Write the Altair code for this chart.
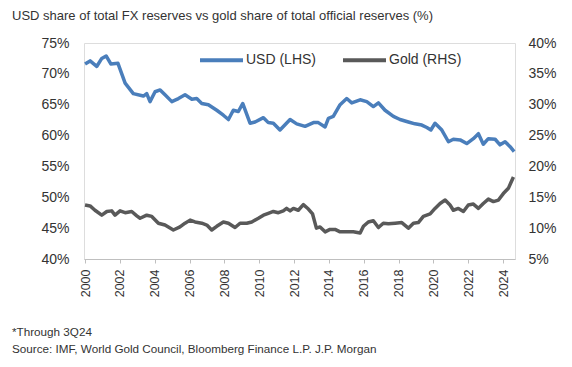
import altair as alt
import pandas as pd

usd_year = [2000.00, 2000.29, 2000.67, 2000.96, 2001.21, 2001.48, 2001.89, 2002.30, 2002.77, 2003.35,
            2003.54, 2003.73, 2004.02, 2004.31, 2004.59, 2004.98, 2005.36, 2005.74, 2006.13, 2006.41,
            2006.70, 2007.08, 2007.56, 2007.94, 2008.23, 2008.51, 2008.80, 2009.05, 2009.47, 2009.76,
            2010.24, 2010.52, 2010.81, 2011.19, 2011.77, 2012.15, 2012.63, 2013.11, 2013.39, 2013.78,
            2013.97, 2014.25, 2014.64, 2015.02, 2015.31, 2015.79, 2016.17, 2016.55, 2016.84, 2017.22,
            2017.70, 2018.08, 2018.56, 2018.94, 2019.33, 2019.62, 2019.85, 2020.09, 2020.48, 2020.86,
            2021.14, 2021.53, 2021.91, 2022.29, 2022.58, 2022.86, 2023.15, 2023.54, 2023.82, 2024.11,
            2024.40, 2024.63]
usd_share = [71.6, 72.1, 71.2, 72.5, 72.9, 71.6, 71.7, 68.5, 66.8, 66.4,
             66.8, 65.5, 67.1, 67.4, 66.6, 65.5, 66.0, 66.6, 65.9, 66.0,
             65.2, 65.0, 64.1, 63.3, 62.6, 64.1, 63.9, 65.2, 62.0, 62.2,
             62.9, 62.1, 62.0, 60.9, 62.6, 61.9, 61.5, 62.1, 62.1, 61.4,
             62.8, 63.1, 65.0, 66.0, 65.3, 65.8, 65.5, 64.7, 65.3, 64.1,
             63.1, 62.6, 62.2, 61.9, 61.7, 61.3, 60.9, 62.0, 60.9, 59.0,
             59.4, 59.3, 58.7, 59.5, 60.3, 58.6, 59.5, 59.4, 58.5, 59.0,
             58.2, 57.4]

gold_year = [2000.00, 2000.29, 2000.57, 2000.96, 2001.25, 2001.53, 2001.72, 2002.01, 2002.30, 2002.68,
             2002.97, 2003.16, 2003.54, 2003.83, 2004.21, 2004.59, 2005.07, 2005.45, 2005.74, 2006.03,
             2006.31, 2006.70, 2006.99, 2007.27, 2007.56, 2007.94, 2008.23, 2008.61, 2008.90, 2009.28,
             2009.57, 2009.95, 2010.24, 2010.52, 2010.81, 2011.10, 2011.38, 2011.57, 2011.77, 2011.96,
             2012.24, 2012.53, 2012.82, 2013.06, 2013.28, 2013.49, 2013.78, 2014.06, 2014.35, 2014.64,
             2015.02, 2015.40, 2015.79, 2015.98, 2016.26, 2016.55, 2016.84, 2017.12, 2017.41, 2017.80,
             2018.18, 2018.56, 2018.85, 2019.13, 2019.42, 2019.81, 2020.09, 2020.38, 2020.67, 2020.95,
             2021.14, 2021.43, 2021.72, 2022.00, 2022.29, 2022.58, 2022.86, 2023.15, 2023.44, 2023.73,
             2024.01, 2024.30, 2024.59]
gold_share = [13.75, 13.6, 12.9, 12.1, 12.7, 12.8, 12.1, 12.8, 12.5, 12.7,
              12.0, 11.6, 12.1, 11.9, 10.8, 10.5, 9.7, 10.2, 10.8, 11.3,
              11.0, 10.8, 10.5, 9.7, 10.3, 11.0, 10.8, 10.1, 10.8, 10.8,
              11.0, 11.6, 12.1, 12.4, 12.7, 12.5, 12.8, 13.2, 12.8, 13.2,
              12.9, 13.8, 13.1, 12.3, 10.0, 10.2, 9.4, 9.8, 9.8, 9.4,
              9.4, 9.4, 9.2, 10.3, 11.0, 11.2, 10.1, 10.8, 10.7, 10.8,
              10.9, 10.0, 10.8, 10.9, 11.9, 12.3, 13.2, 14.0, 14.55, 13.75,
              12.9, 13.2, 12.7, 13.75, 13.9, 13.2, 14.0, 14.7, 14.3, 14.55,
              15.6, 16.45, 18.3]

year_ticks = list(range(2000, 2025, 2))
left_ticks = [40, 45, 50, 55, 60, 65, 70, 75]
right_ticks = [5, 10, 15, 20, 25, 30, 35, 40]
series_names = ["USD (LHS)", "Gold (RHS)"]
series_colors = ["#4a7ebb", "#595959"]

title_text = "USD share of total FX reserves vs gold share of total official reserves (%)"
note_text = "*Through 3Q24"
source_text = "Source: IMF, World Gold Council, Bloomberg Finance L.P. J.P. Morgan"

FONT = "Liberation Sans"
TXT = "#333333"

usd_df = pd.DataFrame({"year": usd_year, "value": usd_share, "series": series_names[0]})
gold_df = pd.DataFrame({"year": gold_year, "value": gold_share, "series": series_names[1]})

xscale = alt.Scale(domain=[1999.94, 2024.68], nice=False, zero=False)
xaxis = alt.Axis(values=year_ticks, format="d", labelAngle=270, labelAlign="right",
                 labelBaseline="middle", labelFontSize=12.5, labelColor=TXT,
                 domainColor="#bfbfbf", tickColor="#bfbfbf", tickSize=4,
                 labelPadding=6, grid=False, title=None, labelFont=FONT)

color = alt.Color(
    "series:N",
    scale=alt.Scale(domain=series_names, range=series_colors),
    legend=alt.Legend(orient="none", legendX=114, legendY=-6.5, direction="horizontal",
                      symbolType="stroke", symbolSize=1849, symbolStrokeWidth=4,
                      labelFontSize=14, labelColor=TXT, labelFont=FONT,
                      labelOffset=1, columnPadding=18, title=None),
)

usd = alt.Chart(usd_df).mark_line(strokeWidth=3.5, strokeJoin="round").encode(
    x=alt.X("year:Q", scale=xscale, axis=xaxis),
    y=alt.Y("value:Q", scale=alt.Scale(domain=[40, 75], nice=False, zero=False),
            axis=alt.Axis(values=left_ticks, labelExpr="datum.value + '%'", orient="left",
                          domain=False, ticks=False, grid=False, labelFontSize=14,
                          labelColor=TXT, labelPadding=15, title=None, labelFont=FONT)),
    color=color,
)

gold = alt.Chart(gold_df).mark_line(strokeWidth=3.5, strokeJoin="round").encode(
    x=alt.X("year:Q", scale=xscale, axis=xaxis),
    y=alt.Y("value:Q", scale=alt.Scale(domain=[5, 40], nice=False, zero=False),
            axis=alt.Axis(values=right_ticks, labelExpr="datum.value + '%'", orient="right",
                          domain=False, ticks=False, grid=False, labelFontSize=14,
                          labelColor=TXT, labelPadding=13, title=None, labelFont=FONT)),
    color=color,
)

text_df = pd.DataFrame({"t": [0]})


def label(txt, xv, yv, size):
    return alt.Chart(text_df).mark_text(align="left", baseline="alphabetic", font=FONT,
                                        fontSize=size, color=TXT).encode(
        x=alt.value(xv), y=alt.value(yv), text=alt.value(txt))


title = label(title_text, -72, -23, 13)
note = label(note_text, -72, 293, 11.7)
source = label(source_text, -72, 310, 11.7)

chart = alt.layer(usd, gold).resolve_scale(y="independent")
chart = alt.layer(chart, title, note, source).properties(
    width=431, height=216,
    autosize=alt.AutoSizeParams(type="none"),
    padding={"left": 76, "top": 35, "right": 49, "bottom": 100},
).configure_view(stroke=None).configure(background="white")

chart.save("out.html", embed_options={"renderer": "svg", "actions": False})
